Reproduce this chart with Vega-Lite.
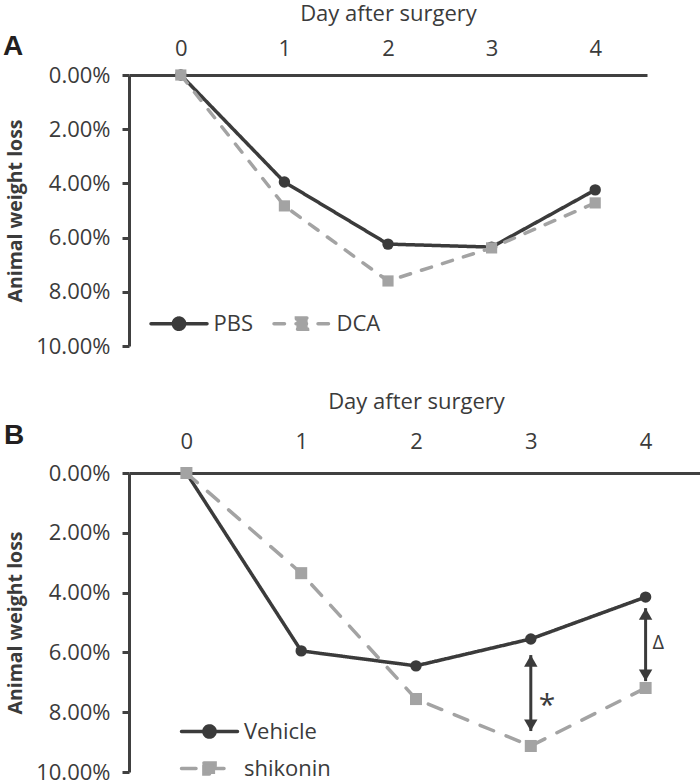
{
  "$schema": "https://vega.github.io/schema/vega-lite/v6.json",
  "padding": {"left": 3, "top": 2, "right": 0, "bottom": 0},
  "spacing": 33,
  "config": {
    "font": "Open Sans",
    "view": {"stroke": null},
    "axis": {
      "labelFont": "Open Sans", "labelFontSize": 22, "labelColor": "#3b3b3b",
      "titleFont": "Open Sans", "titleFontSize": 22, "titleColor": "#3b3b3b",
      "domainColor": "#404040", "domainWidth": 3, "tickColor": "#404040", "tickWidth": 3, "grid": false
    },
    "legend": {"labelFont": "Open Sans", "labelFontSize": 22, "labelColor": "#3b3b3b"}
  },
  "resolve": {
    "scale": {"x": "independent", "y": "independent", "color": "independent", "strokeDash": "independent"},
    "legend": {"color": "independent"}
  },
  "vconcat": [
    {
      "width": 518,
      "height": 271,
      "title": {"text": "A", "anchor": "start", "frame": "group", "orient": "top", "font": "Liberation Sans", "fontSize": 28, "fontWeight": "bold", "color": "#231f20", "dx": -126, "dy": 59, "offset": 0},
      "data": {"values": [
        {"series": "PBS", "day": 0, "loss": 0.0},
        {"series": "PBS", "day": 1, "loss": 0.0395},
        {"series": "PBS", "day": 2, "loss": 0.0624},
        {"series": "PBS", "day": 3, "loss": 0.0635},
        {"series": "PBS", "day": 4, "loss": 0.0424},
        {"series": "DCA", "day": 0, "loss": 0.0},
        {"series": "DCA", "day": 1, "loss": 0.0483},
        {"series": "DCA", "day": 2, "loss": 0.076},
        {"series": "DCA", "day": 3, "loss": 0.0638},
        {"series": "DCA", "day": 4, "loss": 0.0472}
      ]},
      "encoding": {
        "x": {"field": "day", "type": "quantitative",
          "scale": {"domain": [-0.5, 4.5], "nice": false, "zero": false},
          "axis": {"orient": "top", "title": "Day after surgery", "titleFontWeight": "normal", "values": [0, 1, 2, 3, 4], "format": "d", "ticks": false, "tickSize": 0, "labelPadding": 15, "titlePadding": 12}},
        "y": {"field": "loss", "type": "quantitative",
          "scale": {"domain": [0, 0.1], "reverse": true, "nice": false, "zero": false},
          "axis": {"orient": "left", "title": "Animal weight loss", "titleFontWeight": "bold", "titleFontSize": 19.5, "values": [0, 0.02, 0.04, 0.06, 0.08, 0.1], "format": ".2%", "tickSize": 7, "labelPadding": 12, "titlePadding": 10}}
      },
      "layer": [
        {
          "mark": {"type": "line", "strokeWidth": 3.5, "strokeCap": "round"},
          "encoding": {
            "color": {"field": "series", "type": "nominal",
              "scale": {"domain": ["PBS", "DCA"], "range": ["#3b3b3b", "#a3a3a3"]},
              "legend": {"title": null, "orient": "none", "direction": "horizontal", "legendX": 20, "legendY": 232.5, "padding": 0,
                "symbolSize": 784, "symbolStrokeWidth": 3, "labelOffset": 32.5, "columnPadding": 13,
                "encode": {"symbols": {"update": {
                  "shape": {"signal": "datum.value === 'PBS' ? 'M-1,0L3,0M0.6,0A0.4,0.4,0,1,1,1.4,0A0.4,0.4,0,1,1,0.6,0Z' : 'M-1,0L3,0M0.6,-0.4L1.4,-0.4L1.4,0.4L0.6,0.4Z'"},
                  "fill": {"signal": "datum.value === 'PBS' ? '#3b3b3b' : '#a3a3a3'"},
                  "stroke": {"signal": "datum.value === 'PBS' ? '#3b3b3b' : '#a3a3a3'"},
                  "strokeDash": {"signal": "datum.value === 'PBS' ? [1,0] : [10.5,11.5]"},
                  "strokeCap": {"value": "round"},
                  "strokeWidth": {"value": 3.5},
                  "size": {"value": 784},
                  "opacity": {"value": 1}
                }}}}},
            "strokeDash": {"field": "series", "type": "nominal",
              "scale": {"domain": ["PBS", "DCA"], "range": [[1, 0], [10.5, 11.5]]}, "legend": null}
          }
        },
        {
          "transform": [{"filter": "datum.series === 'PBS'"}],
          "mark": {"type": "point", "shape": "circle", "filled": true, "opacity": 1, "size": 130, "color": "#3b3b3b"}
        },
        {
          "transform": [{"filter": "datum.series === 'DCA'"}],
          "mark": {"type": "point", "shape": "square", "filled": true, "opacity": 1, "size": 125, "color": "#a3a3a3"}
        }
      ]
    },
    {
      "width": 574,
      "height": 299,
      "title": {"text": "B", "anchor": "start", "frame": "group", "orient": "top", "font": "Liberation Sans", "fontSize": 28, "fontWeight": "bold", "color": "#231f20", "dx": -125, "dy": 60, "offset": 0},
      "data": {"values": [
        {"series": "Vehicle", "day": 0, "loss": 0.0},
        {"series": "Vehicle", "day": 1, "loss": 0.0595},
        {"series": "Vehicle", "day": 2, "loss": 0.0645},
        {"series": "Vehicle", "day": 3, "loss": 0.0555},
        {"series": "Vehicle", "day": 4, "loss": 0.0415},
        {"series": "shikonin", "day": 0, "loss": 0.0},
        {"series": "shikonin", "day": 1, "loss": 0.0335},
        {"series": "shikonin", "day": 2, "loss": 0.0756},
        {"series": "shikonin", "day": 3, "loss": 0.0913},
        {"series": "shikonin", "day": 4, "loss": 0.0719}
      ]},
      "encoding": {
        "x": {"field": "day", "type": "quantitative",
          "scale": {"domain": [-0.5, 4.5], "nice": false, "zero": false},
          "axis": {"orient": "top", "title": "Day after surgery", "titleFontWeight": "normal", "values": [0, 1, 2, 3, 4], "format": "d", "ticks": false, "tickSize": 0, "labelPadding": 20, "titlePadding": 17}},
        "y": {"field": "loss", "type": "quantitative",
          "scale": {"domain": [0, 0.1], "reverse": true, "nice": false, "zero": false},
          "axis": {"orient": "left", "title": "Animal weight loss", "titleFontWeight": "bold", "titleFontSize": 19.5, "values": [0, 0.02, 0.04, 0.06, 0.08, 0.1], "format": ".2%", "tickSize": 7, "labelPadding": 12, "titlePadding": 10}}
      },
      "layer": [
        {
          "mark": {"type": "line", "strokeWidth": 3.5, "strokeCap": "round"},
          "encoding": {
            "color": {"field": "series", "type": "nominal",
              "scale": {"domain": ["Vehicle", "shikonin"], "range": ["#3b3b3b", "#a3a3a3"]},
              "legend": {"title": null, "orient": "none", "direction": "vertical", "legendX": 50.5, "legendY": 242.5, "padding": 0,
                "symbolSize": 784, "symbolStrokeWidth": 3, "labelOffset": 32.5, "rowPadding": 8,
                "encode": {"symbols": {"update": {
                  "shape": {"signal": "datum.value === 'Vehicle' ? 'M-1,0L3,0M0.6,0A0.4,0.4,0,1,1,1.4,0A0.4,0.4,0,1,1,0.6,0Z' : 'M-1,0L3,0M0.6,-0.4L1.4,-0.4L1.4,0.4L0.6,0.4Z'"},
                  "fill": {"signal": "datum.value === 'Vehicle' ? '#3b3b3b' : '#a3a3a3'"},
                  "stroke": {"signal": "datum.value === 'Vehicle' ? '#3b3b3b' : '#a3a3a3'"},
                  "strokeDash": {"signal": "datum.value === 'Vehicle' ? [1,0] : [11,11]"},
                  "strokeCap": {"value": "round"},
                  "strokeWidth": {"value": 3.5},
                  "size": {"value": 784},
                  "opacity": {"value": 1}
                }}}}},
            "strokeDash": {"field": "series", "type": "nominal",
              "scale": {"domain": ["Vehicle", "shikonin"], "range": [[1, 0], [14.5, 13.5]]}, "legend": null}
          }
        },
        {
          "transform": [{"filter": "datum.series === 'Vehicle'"}],
          "mark": {"type": "point", "shape": "circle", "filled": true, "opacity": 1, "size": 130, "color": "#3b3b3b"}
        },
        {
          "transform": [{"filter": "datum.series === 'shikonin'"}],
          "mark": {"type": "point", "shape": "square", "filled": true, "opacity": 1, "size": 145, "color": "#a3a3a3"}
        },
        {
          "data": {"values": [
            {"arrow": "a3", "day": 3, "loss": 0.0609, "end": "top"},
            {"arrow": "a3", "day": 3, "loss": 0.0863, "end": "bottom"},
            {"arrow": "a4", "day": 4, "loss": 0.0452, "end": "top"},
            {"arrow": "a4", "day": 4, "loss": 0.0696, "end": "bottom"}
          ]},
          "layer": [
            {"mark": {"type": "line", "color": "#3b3b3b", "strokeWidth": 3}, "encoding": {"detail": {"field": "arrow", "type": "nominal"}}},
            {"transform": [{"filter": "datum.end === 'top'"}], "mark": {"type": "point", "shape": "triangle-up", "filled": true, "color": "#3b3b3b", "opacity": 1, "size": 180, "yOffset": 5.8}},
            {"transform": [{"filter": "datum.end === 'bottom'"}], "mark": {"type": "point", "shape": "triangle-down", "filled": true, "color": "#3b3b3b", "opacity": 1, "size": 180, "yOffset": -5.8}}
          ]
        },
        {
          "data": {"values": [{"day": 3, "loss": 0.0808, "label": "*"}]},
          "mark": {"type": "text", "align": "left", "baseline": "alphabetic", "dx": 8, "fontSize": 30, "font": "Open Sans", "color": "#3b3b3b"},
          "encoding": {"text": {"field": "label", "type": "nominal"}}
        },
        {
          "data": {"values": [{"day": 4, "loss": 0.0587, "label": "Δ"}]},
          "mark": {"type": "text", "align": "left", "baseline": "alphabetic", "dx": 7, "fontSize": 20, "font": "Open Sans", "color": "#3b3b3b"},
          "encoding": {"text": {"field": "label", "type": "nominal"}}
        }
      ]
    }
  ]
}
